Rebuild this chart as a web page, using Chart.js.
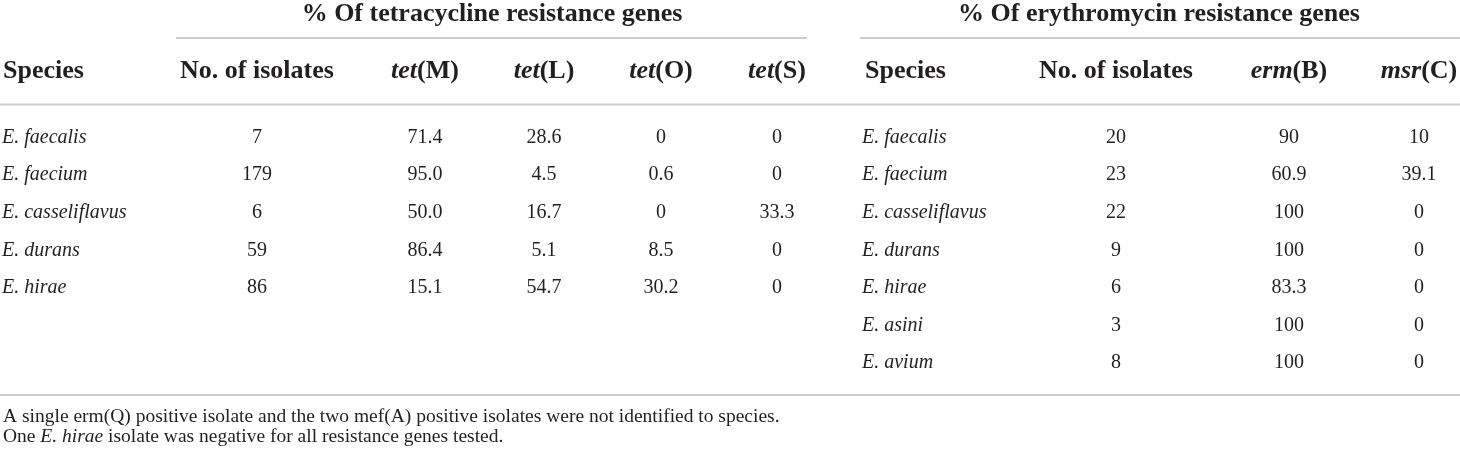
<!DOCTYPE html>
<html>
<head>
<meta charset="utf-8">
<script src="https://cdn.jsdelivr.net/npm/chart.js@4.4.1/dist/chart.umd.min.js"></script>
<style>
  html, body { margin: 0; padding: 0; background: #fff; }
  #wrap { width: 1460px; height: 454px; position: relative; }
</style>
</head>
<body>
<div id="wrap"><canvas id="table"></canvas></div>
<script>
'use strict';

// table data
let tetSpecies = ['E. faecalis', 'E. faecium', 'E. casseliflavus', 'E. durans', 'E. hirae'];
let tetIsolates = [7, 179, 6, 59, 86];
let tetM = [71.4, 95.0, 50.0, 86.4, 15.1];
let tetL = [28.6, 4.5, 16.7, 5.1, 54.7];
let tetO = [0, 0.6, 0, 8.5, 30.2];
let tetS = [0, 0, 33.3, 0, 0];

let ermSpecies = ['E. faecalis', 'E. faecium', 'E. casseliflavus', 'E. durans', 'E. hirae', 'E. asini', 'E. avium'];
let ermIsolates = [20, 23, 22, 9, 6, 3, 8];
let ermB = [90, 60.9, 100, 100, 83.3, 100, 100];
let msrC = [10, 39.1, 0, 0, 0, 0, 0];

let tetTitle = '% Of tetracycline resistance genes';
let ermTitle = '% Of erythromycin resistance genes';
let tetGenes = ['M', 'L', 'O', 'S'];
let footnote1 = 'A single erm(Q) positive isolate and the two mef(A) positive isolates were not identified to species.';
let footnote2 = ['One ', 'E. hirae', ' isolate was negative for all resistance genes tested.'];

const SERIF = '"Liberation Serif", "DejaVu Serif", serif';
const INK = '#231f20';
const RULE = '#cccccc';
const HEAD_FONT = 'bold 26px ' + SERIF;
const HEAD_IT = 'italic bold 26px ' + SERIF;
const CELL_FONT = '20px ' + SERIF;
const CELL_IT = 'italic 20px ' + SERIF;
const NOTE_FONT = '19.5px ' + SERIF;
const NOTE_IT = 'italic 19.5px ' + SERIF;

// y axis is in row units (row 0 = first data row baseline)
const Y_MIN = -3.8133, Y_MAX = 8.2933;
const TITLE_Y = -3.2533, HEAD_Y = -1.7333;
const RULE_TOP = -2.8, RULE_HEAD = -1.0267, RULE_BOTTOM = 6.72;
const NOTE1_Y = 7.44, NOTE2_Y = 7.9733;

function fmtTet(v){
  return v === 0 ? '0' : v.toFixed(1);
}
function fmtPlain(v){
  return String(v);
}
function makeColumn(x, values, fmt, font, align){
  return {
    data: values.map((v, i) => ({x: x, y: i})),
    labels: values.map(fmt),
    font: font,
    align: align,
    pointRadius: 0,
    pointHoverRadius: 0,
    showLine: false
  };
}

// draws a run of differently styled text pieces
function drawRuns(ctx, runs, x, y, align){
  let total = 0;
  runs.forEach(r => { ctx.font = r.font; total += ctx.measureText(r.text).width; });
  let cx = align === 'center' ? x - total / 2 : x;
  ctx.textAlign = 'left';
  runs.forEach(r => {
    ctx.font = r.font;
    ctx.fillText(r.text, cx, y);
    cx += ctx.measureText(r.text).width;
  });
}

const tableText = {
  id: 'tableText',
  afterDatasetsDraw(chart){
    const ctx = chart.ctx;
    const xs = chart.scales.x;
    const ys = chart.scales.y;
    ctx.save();
    ctx.fillStyle = INK;
    ctx.textBaseline = 'alphabetic';

    // cells
    chart.data.datasets.forEach((ds, i) => {
      chart.getDatasetMeta(i).data.forEach((pt, j) => {
        ctx.font = ds.font;
        ctx.textAlign = ds.align;
        ctx.fillText(ds.labels[j], pt.x, pt.y);
      });
    });

    // rules
    ctx.strokeStyle = RULE;
    ctx.lineWidth = 2;
    [[176, 807, RULE_TOP], [860, 1460, RULE_TOP], [0, 1460, RULE_HEAD], [0, 1460, RULE_BOTTOM]].forEach(r => {
      ctx.beginPath();
      ctx.moveTo(xs.getPixelForValue(r[0]), ys.getPixelForValue(r[2]));
      ctx.lineTo(xs.getPixelForValue(r[1]), ys.getPixelForValue(r[2]));
      ctx.stroke();
    });

    // group titles
    let ty = ys.getPixelForValue(TITLE_Y);
    ctx.font = HEAD_FONT;
    ctx.textAlign = 'center';
    ctx.fillText(tetTitle, xs.getPixelForValue(492), ty);
    ctx.fillText(ermTitle, xs.getPixelForValue(1159), ty);

    // column headers
    let hy = ys.getPixelForValue(HEAD_Y);
    ctx.textAlign = 'left';
    ctx.fillText('Species', xs.getPixelForValue(3), hy);
    ctx.fillText('Species', xs.getPixelForValue(865), hy);
    ctx.textAlign = 'center';
    ctx.fillText('No. of isolates', xs.getPixelForValue(257), hy);
    ctx.fillText('No. of isolates', xs.getPixelForValue(1116), hy);
    let tetX = [425, 544, 661, 777];
    tetGenes.forEach((g, i) => {
      drawRuns(ctx, [{text: 'tet', font: HEAD_IT}, {text: '(' + g + ')', font: HEAD_FONT}], xs.getPixelForValue(tetX[i]), hy, 'center');
    });
    drawRuns(ctx, [{text: 'erm', font: HEAD_IT}, {text: '(B)', font: HEAD_FONT}], xs.getPixelForValue(1289), hy, 'center');
    drawRuns(ctx, [{text: 'msr', font: HEAD_IT}, {text: '(C)', font: HEAD_FONT}], xs.getPixelForValue(1419), hy, 'center');

    // footnotes
    ctx.font = NOTE_FONT;
    ctx.textAlign = 'left';
    ctx.fillText(footnote1, xs.getPixelForValue(3), ys.getPixelForValue(NOTE1_Y));
    drawRuns(ctx, [
      {text: footnote2[0], font: NOTE_FONT},
      {text: footnote2[1], font: NOTE_IT},
      {text: footnote2[2], font: NOTE_FONT}
    ], xs.getPixelForValue(3), ys.getPixelForValue(NOTE2_Y), 'left');
    ctx.restore();
  }
};

let datasets = [
  makeColumn(2, tetSpecies, fmtPlain, CELL_IT, 'left'),
  makeColumn(257, tetIsolates, fmtPlain, CELL_FONT, 'center'),
  makeColumn(425, tetM, fmtTet, CELL_FONT, 'center'),
  makeColumn(544, tetL, fmtTet, CELL_FONT, 'center'),
  makeColumn(661, tetO, fmtTet, CELL_FONT, 'center'),
  makeColumn(777, tetS, fmtTet, CELL_FONT, 'center'),
  makeColumn(862, ermSpecies, fmtPlain, CELL_IT, 'left'),
  makeColumn(1116, ermIsolates, fmtPlain, CELL_FONT, 'center'),
  makeColumn(1289, ermB, fmtPlain, CELL_FONT, 'center'),
  makeColumn(1419, msrC, fmtPlain, CELL_FONT, 'center')
];

new Chart(document.getElementById('table'), {
  type: 'scatter',
  data: { datasets: datasets },
  options: {
    responsive: true,
    maintainAspectRatio: false,
    animation: false,
    events: [],
    layout: { padding: 0 },
    plugins: { legend: { display: false }, tooltip: { enabled: false } },
    scales: {
      x: { type: 'linear', display: false, min: 0, max: 1460 },
      y: { type: 'linear', display: false, min: Y_MIN, max: Y_MAX, reverse: true }
    }
  },
  plugins: [tableText]
});
</script>
</body>
</html>
